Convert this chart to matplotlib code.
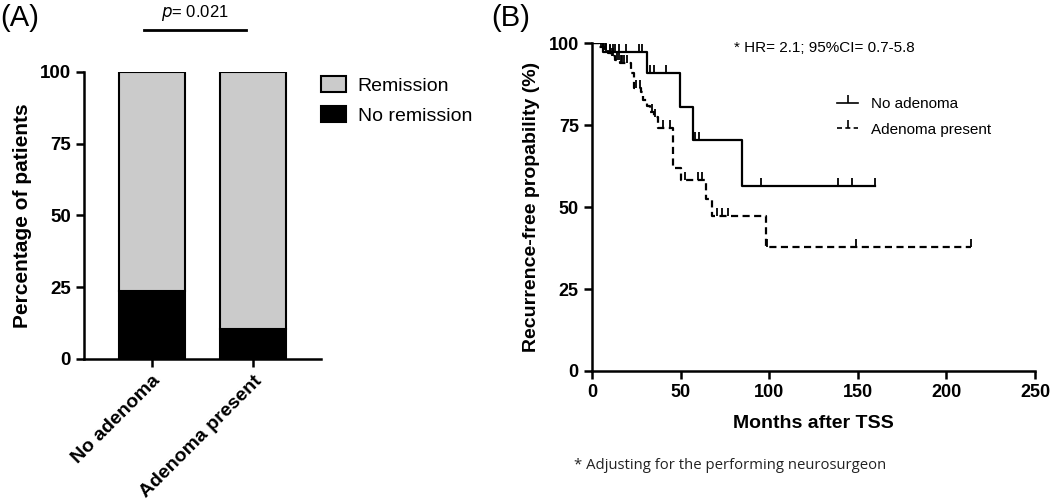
import numpy as np
import matplotlib
matplotlib.use("Agg")
from matplotlib import pyplot as plt
from matplotlib.patches import Patch
from matplotlib.lines import Line2D

plt.rcParams["font.family"] = ["Liberation Sans", "DejaVu Sans"]

# (A) remission by adenoma status
groups = ["No adenoma", "Adenoma present"]
no_remission = [23.7, 10.4]
remission = [76.3, 89.6]

# (B) Kaplan-Meier curves: step times / survival (%), end of follow-up, censor times
no_adenoma_t = [0, 6, 31.3, 49.6, 57, 84.5]
no_adenoma_s = [100, 97.2, 90.8, 80.6, 70.4, 56.4]
no_adenoma_end = 159.5
no_adenoma_cens = [2.5, 3.4, 5.6, 8, 10, 12, 13, 15, 19, 26.5, 28.5, 32.5, 35,
                   42, 58.3, 60.5, 95.4, 139, 147, 159.5]

adenoma_t = [0, 4, 7, 9, 11, 13, 16, 22, 23.5, 27.5, 29, 31, 33, 35, 37,
             45.5, 50, 64.3, 67.7, 98]
adenoma_s = [100, 99, 98, 97, 96, 95, 94, 91, 86.5, 85, 82.6, 81, 79, 77.5,
             74.3, 61.8, 58.2, 52.5, 47.2, 37.7]
adenoma_end = 213.8
adenoma_cens = [2, 3, 5, 6, 7.5, 8, 10, 11.5, 12, 14, 15, 16.5, 17, 18, 20,
                25, 27, 34, 35.5, 40, 44, 52.5, 60, 62, 70.5, 73.4, 77, 99,
                149, 213.8]


def surv_at(times, t, s):
    idx = np.searchsorted(t, times, side="right") - 1
    return np.asarray(s)[idx]


fig = plt.figure(figsize=(10.5, 5.04), dpi=100)

# ---------------- panel A
ax1 = fig.add_axes([0.0803, 0.2877, 0.2251, 0.57])
x = np.arange(len(groups))
ax1.bar(x, no_remission, width=0.65, color="black", edgecolor="black",
        linewidth=1.5, label="No remission")
ax1.bar(x, remission, bottom=no_remission, width=0.65, color="#cbcbcb",
        edgecolor="black", linewidth=1.5, label="Remission")
ax1.set_xlim(-0.663, 1.663)
ax1.set_ylim(0, 100)
ax1.set_yticks([0, 25, 50, 75, 100])
ax1.set_xticks(x)
ax1.set_xticklabels(groups, rotation=45, ha="right", va="top",
                    rotation_mode="anchor", fontsize=14, fontweight="bold")
ax1.set_ylabel("Percentage of patients", fontsize=15, fontweight="bold",
               labelpad=6)
for lab in ax1.get_yticklabels():
    lab.set_fontweight("bold")
    lab.set_fontsize(13.5)
ax1.spines["top"].set_visible(False)
ax1.spines["right"].set_visible(False)
for sp in ["left", "bottom"]:
    ax1.spines[sp].set_linewidth(1.8)
ax1.tick_params(width=1.8, length=6)
handles = [Patch(facecolor="#cbcbcb", edgecolor="black", linewidth=1.5),
           Patch(facecolor="black", edgecolor="black", linewidth=1.5)]
ax1.legend(handles, ["Remission", "No remission"], loc="upper left",
           bbox_to_anchor=(1.0, 0.985), frameon=False, fontsize=14,
           handlelength=1.3, handleheight=0.87, handletextpad=0.6,
           labelspacing=0.6, borderaxespad=0, borderpad=0)
ax1.plot([-0.076, 0.928], [114.5, 114.5], color="black", lw=2,
         clip_on=False)
ax1.text(0.426, 117, r"$\it{p}$= 0.021", ha="center", va="bottom",
         fontsize=12)

# ---------------- panel B
ax2 = fig.add_axes([0.5638, 0.2639, 0.4219, 0.6502])
ax2.step(np.append(no_adenoma_t, no_adenoma_end),
         np.append(no_adenoma_s, no_adenoma_s[-1]), where="post",
         color="black", lw=1.6)
ax2.plot(no_adenoma_cens, surv_at(no_adenoma_cens, no_adenoma_t, no_adenoma_s),
         ls="none", marker=2, ms=6, mew=1.3, color="black")
ax2.step(np.append(adenoma_t, adenoma_end),
         np.append(adenoma_s, adenoma_s[-1]), where="post",
         color="black", lw=1.6, ls=(0, (3.2, 2)))
ax2.plot(adenoma_cens, surv_at(adenoma_cens, adenoma_t, adenoma_s),
         ls="none", marker=2, ms=6, mew=1.3, color="black")
ax2.set_xlim(0, 250)
ax2.set_ylim(0, 100)
ax2.set_xticks([0, 50, 100, 150, 200, 250])
ax2.set_yticks([0, 25, 50, 75, 100])
for lab in ax2.get_xticklabels() + ax2.get_yticklabels():
    lab.set_fontweight("bold")
    lab.set_fontsize(13)
ax2.set_xlabel("Months after TSS", fontsize=14, fontweight="bold", labelpad=10)
ax2.set_ylabel("Recurrence-free propability (%)", fontsize=14,
               fontweight="bold", labelpad=6)
ax2.spines["top"].set_visible(False)
ax2.spines["right"].set_visible(False)
for sp in ["left", "bottom"]:
    ax2.spines[sp].set_linewidth(1.8)
ax2.tick_params(width=1.8, length=6)
leg_handles = [Line2D([], [], color="black", lw=1.2, marker=2, ms=6, mew=1.2),
               Line2D([], [], color="black", lw=1.2, ls=(0, (3, 2)), marker=2,
                      ms=6, mew=1.2)]
ax2.legend(leg_handles, ["No adenoma", "Adenoma present"], loc="upper left",
           bbox_to_anchor=(0.553, 0.835), frameon=False, fontsize=11,
           handlelength=1.4, handletextpad=0.8, labelspacing=0.75,
           numpoints=1, borderaxespad=0, borderpad=0)
ax2.text(0.32, 0.985, "* HR= 2.1; 95%CI= 0.7-5.8", transform=ax2.transAxes,
         ha="left", va="center", fontsize=11)

fig.text(0.0, 0.965, "(A)", fontsize=21, ha="left", va="center")
fig.text(0.468, 0.965, "(B)", fontsize=21, ha="left", va="center")
fig.text(0.547, 0.077, "* Adjusting for the performing neurosurgeon",
         fontsize=10.7, ha="left", va="center",
         family=["Open Sans", "DejaVu Sans"], color="#222222")

fig.savefig("out.png", dpi=100)
